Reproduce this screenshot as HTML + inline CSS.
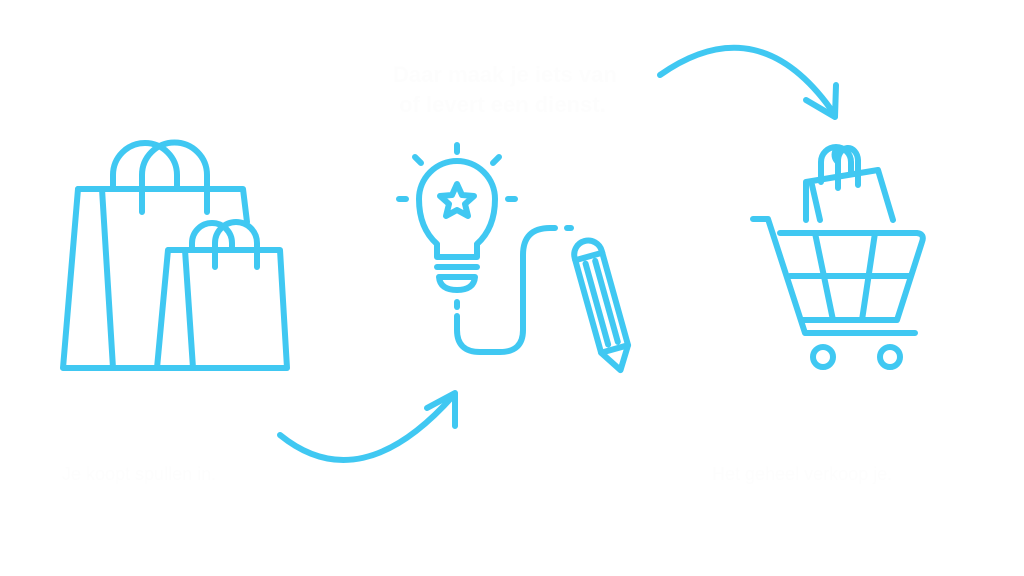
<!DOCTYPE html>
<html><head><style>
html,body{margin:0;padding:0;background:#fff;width:1024px;height:576px;overflow:hidden}
svg{position:absolute;left:0;top:0}
.t{position:absolute;color:#fdfdfd;font-family:"Liberation Sans",sans-serif}
</style></head><body>
<svg width="1024" height="576" viewBox="0 0 1024 576" fill="none" stroke="#40C8F2" stroke-width="6" stroke-linecap="round" stroke-linejoin="round">
<!-- bags -->
<path d="M78 189 L243 189 L247 222"/>
<path d="M78 189 L63 368 L157 368"/>
<path d="M102 189 L113 368"/>
<path d="M113 189 V175 A32 32 0 0 1 177 175 V189"/>
<path d="M142 212 V175 A32 32 0 0 1 207 175 V212"/>
<path d="M168 250 L280 250 L287 368 L157 368 L168 250"/>
<path d="M185 250 L193 368"/>
<path d="M192 250 V243 A20 20 0 0 1 232 243 V250"/>
<path d="M215 267 V243 A21 21 0 0 1 257 243 V267"/>
<!-- arrows -->
<path d="M280 435 Q360 500 453 396"/>
<path d="M427 408 L455 393 L455 426"/>
<path d="M660 75 Q760 5 835 115"/>
<path d="M806 100 L835 117 L836 85"/>
<!-- bulb -->
<path d="M437 257 V244 Q419 228 419 199 A38 38 0 0 1 495 199 Q495 228 477 244 V257 Z"/>
<path d="M437 267 H477"/>
<path d="M439 277 H475 Q474 290 457 290 Q440 290 439 277 Z"/>
<path d="M457 145 V152 M415 157 L421 163 M499 157 L493 163 M399 199 H406 M508 199 H515"/>
<path d="M457 184 L462 195 L474 196 L465 204 L468 216 L457 210 L446 216 L449 204 L440 196 L452 195 Z"/>
<path d="M457 302 V307"/>
<path d="M457 316 V330 Q457 352 480 352 H500 Q523 352 523 330 V255 Q523 228 550 228 H555"/>
<path d="M567 228 H571"/>
<g transform="translate(585,243) rotate(-15.6)">
<path d="M-14 12 A14 14 0 0 1 14 12 V110 L0 132 L-14 110 Z"/>
<path d="M-14 14 H14 M-5 20 V104 M5 20 V104 M-14 110 H14"/>
</g>
<!-- cart -->
<path d="M753 219 H768 L805 333 H915"/>
<path d="M780 233 H917 Q925 234 922 242 L897 320 H802"/>
<path d="M790 276 H910"/>
<path d="M815 233 L833 320 M875 233 L862 320"/>
<circle cx="823" cy="357" r="10"/>
<circle cx="890" cy="357" r="10"/>
<path d="M806 220 V182 L878 170 L893 220"/>
<path d="M812 185 L820 220"/>
<path d="M821 182 V162 A15 15 0 0 1 851 162 V172"/>
<path d="M838 188 V162 A9 9 0 0 1 836 150"/>
<path d="M838 162 A10 13 0 0 1 858 160 V185"/>
</svg>
<div class="t" style="left:393px;top:60px;font-size:22px;font-weight:bold;line-height:30px">Daar maak je iets van<br>&nbsp;of levert een dienst.</div>
<div class="t" style="left:62px;top:464px;font-size:18px">Je koopt spullen in.</div>
<div class="t" style="left:712px;top:464px;font-size:18px">Het geheel verkoop je.</div>
</body></html>
